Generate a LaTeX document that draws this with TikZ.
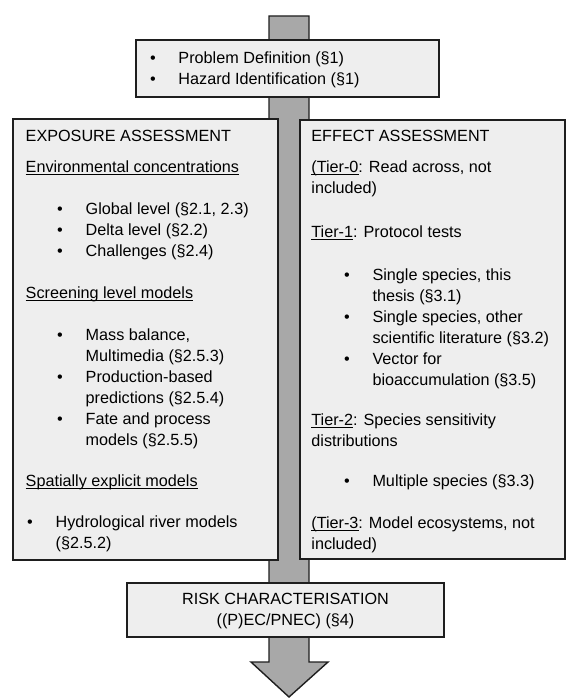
\documentclass[tikz,border=0pt]{standalone}
\usepackage{fontspec}
\setmainfont{Liberation Sans}
\definecolor{boxfill}{RGB}{238,238,238}
\definecolor{shaftgray}{RGB}{168,168,168}
\definecolor{edge}{RGB}{30,30,30}
\newcommand\ulx[1]{\setbox0\hbox{#1}\rlap{\rule[-2.4pt]{\wd0}{0.9pt}}\box0}
\newcommand\bi{\makebox[28.5pt][l]{\textbullet}}
\begin{document}
\begin{tikzpicture}[x=1pt,y=-1pt,
  box/.style={draw=edge,fill=boxfill,line width=1.4pt,inner sep=0pt,outer sep=0pt,anchor=north west},
  txt/.style={inner sep=0pt,outer sep=0pt,anchor=base west,font=\fontsize{16.2}{21}\selectfont},
  ctxt/.style={txt,anchor=base},
]
\useasboundingbox (0,0) rectangle (582,698);
% block arrow
\coordinate (shTL) at (269,16);
\coordinate (shTR) at (309,16);
\coordinate (shBR) at (309,662);
\coordinate (wR) at (328,662);
\coordinate (tip) at (289,697);
\coordinate (wL) at (251,662);
\coordinate (shBL) at (269,662);
\draw[draw=edge,fill=shaftgray,line width=1.4pt,line join=miter]
  (shTL) -- (shTR) -- (shBR) -- (wR) -- (tip) -- (wL) -- (shBL) -- cycle;
% boxes
\node[box,minimum width=303pt,minimum height=57pt] (top) at (136,40) {};
\node[box,minimum width=265pt,minimum height=441pt] (exp) at (13,119) {};
\node[box,minimum width=265pt,minimum height=439pt] (eff) at (300,120) {};
\node[box,minimum width=317pt,minimum height=54pt] (risk) at (127,583) {};
% top text
\node[txt] (topL) at (150,63.3) {\begin{tabular}[t]{@{}l@{}l@{}}
\bi & Problem Definition (§1)\\
\bi & Hazard Identification (§1)
\end{tabular}};
% exposure
\node[txt] (expH) at (25.7,141.7) {EXPOSURE ASSESSMENT};
\node[txt] (envH) at (25.7,172) {\ulx{Environmental concentrations}};
\node[txt] (envL) at (57.2,214) {\begin{tabular}[t]{@{}l@{}l@{}}
\bi & Global level (§2.1, 2.3)\\
\bi & Delta level (§2.2)\\
\bi & Challenges (§2.4)
\end{tabular}};
\node[txt] (scrH) at (25.7,298) {\ulx{Screening level models}};
\node[txt] (scrL) at (57.2,340) {\begin{tabular}[t]{@{}l@{}l@{}}
\bi & Mass balance,\\
 & Multimedia (§2.5.3)\\
\bi & Production-based\\
 & predictions (§2.5.4)\\
\bi & Fate and process\\
 & models (§2.5.5)
\end{tabular}};
\node[txt] (spaH) at (25.7,486) {\ulx{Spatially explicit models}};
\node[txt] (spaL) at (27.2,527.7) {\begin{tabular}[t]{@{}l@{}l@{}}
\bi & Hydrological river models\\
 & (§2.5.2)
\end{tabular}};
% effect
\node[txt] (effH) at (311.4,141.7) {EFFECT ASSESSMENT};
\node[txt] (t0) at (311.4,172) {\begin{tabular}[t]{@{}l@{}}
\ulx{(Tier-0}: Read across, not\\
included)
\end{tabular}};
\node[txt] (t1) at (311.4,237.7) {\ulx{Tier-1}: Protocol tests};
\node[txt] (t1L) at (344,280) {\begin{tabular}[t]{@{}l@{}l@{}}
\bi & Single species, this\\
 & thesis (§3.1)\\
\bi & Single species, other\\
 & scientific literature (§3.2)\\
\bi & Vector for\\
 & bioaccumulation (§3.5)
\end{tabular}};
\node[txt] (t2) at (311.4,425.7) {\begin{tabular}[t]{@{}l@{}}
\ulx{Tier-2}: Species sensitivity\\
distributions
\end{tabular}};
\node[txt] (t2L) at (344,486.7) {\begin{tabular}[t]{@{}l@{}l@{}}
\bi & Multiple species (§3.3)
\end{tabular}};
\node[txt] (t3) at (311.4,528.3) {\begin{tabular}[t]{@{}l@{}}
\ulx{(Tier-3}: Model ecosystems, not\\
included)
\end{tabular}};
% risk
\node[ctxt] (riskT) at (285.5,604.3) {\begin{tabular}[t]{@{}c@{}}
RISK CHARACTERISATION\\
((P)EC/PNEC) (§4)
\end{tabular}};
\end{tikzpicture}
\end{document}
